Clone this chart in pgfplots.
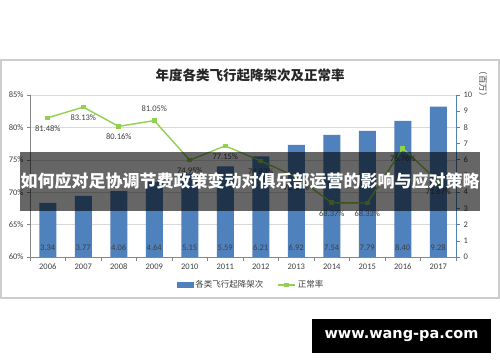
\documentclass[border=0pt]{standalone}
\usepackage{pgfplots}
\pgfplotsset{compat=1.18}
\usepackage{pgfplotstable}
\usepackage{fontspec}
\setmainfont{Carlito}
\newfontfamily\cjk{Noto Sans CJK SC}
\newfontfamily\dejavu{DejaVu Sans}
\definecolor{barblue}{RGB}{79,129,189}
\definecolor{linegreen}{RGB}{146,208,80}
\definecolor{gridgray}{RGB}{217,217,217}
\definecolor{axisgray}{RGB}{134,134,134}
\definecolor{txt}{RGB}{64,64,64}
\definecolor{framegray}{RGB}{205,205,205}

\pgfplotstableread{
x y
0 3.34
1 3.77
2 4.06
3 4.64
4 5.15
5 5.59
6 6.21
7 6.92
8 7.54
9 7.79
10 8.40
11 9.28
}\flighttable

\pgfplotstableread{
x y
0 81.48
1 83.13
2 80.16
3 81.05
4 74.95
5 77.15
6 74.83
7 72.34
8 68.37
9 68.33
10 76.76
11 71.67
}\ratetable

\begin{document}
\begin{tikzpicture}[x=1pt,y=1pt]
\path[use as bounding box] (0,0) rectangle (500,362);
\fill[white] (0,0) rectangle (500,362);
\draw[framegray, line width=1.2pt] (1,64) rectangle (499,302);
\node[font=\cjk\bfseries\fontsize{13.5}{15}\selectfont, text=black!85] at (250,287) {年度各类飞行起降架次及正常率};
\node[rotate=-90, font=\cjk\fontsize{8.5}{10}\selectfont, text=txt] at (483,278) {（百万）};

% axis with percentage scale, grid and categories
\begin{axis}[
  at={(30pt,105pt)}, anchor=south west, scale only axis,
  width=426pt, height=162pt,
  xmin=-0.5, xmax=11.5, ymin=60, ymax=85,
  axis x line*=bottom, axis y line*=left,
  xtick={0,...,11},
  xticklabels={2006,2007,2008,2009,2010,2011,2012,2013,2014,2015,2016,2017},
  minor xtick={-0.5,0.5,...,11.5},
  every major x tick/.append style={draw=none},
  ytick={60,65,...,85},
  yticklabel={\pgfmathprintnumber{\tick}\%},
  /pgf/number format/assume math mode=true,
  ymajorgrids, grid style={gridgray, line width=0.6pt},
  axis line style={axisgray, line width=0.6pt},
  tick style={axisgray, line width=0.6pt},
  tick align=outside, major tick length=3pt, minor tick length=4pt,
  ticklabel style={font=\fontsize{8.5}{10}\selectfont, text=txt},
]
\addplot[draw=none] coordinates {(0,60)};
\end{axis}

% bars on right scale
\begin{axis}[
  at={(30pt,105pt)}, anchor=south west, scale only axis,
  width=426pt, height=162pt,
  xmin=-0.5, xmax=11.5, ymin=0, ymax=10,
  axis x line=none, axis y line*=right,
  ytick={0,...,10},
  /pgf/number format/assume math mode=true,
  y axis line style={barblue, line width=0.6pt},
  ytick style={barblue, line width=0.6pt},
  tick align=outside, major tick length=4pt,
  yticklabel style={font=\fontsize{8.5}{10}\selectfont, text=txt},
  ybar, bar width=17pt,
  nodes near coords={\pgfmathprintnumber[fixed,precision=2,fixed zerofill,assume math mode=true]{\pgfplotspointmeta}},
  visualization depends on=y \as \rawy,
  every node near coord/.append style={shift={(axis direction cs:0,-\rawy)}, anchor=south, inner sep=0pt, yshift=6pt, font=\fontsize{8.5}{10}\selectfont, text=txt},
]
\addplot[fill=barblue, draw=none] table[x=x,y=y] {\flighttable};
\end{axis}

% line on percentage scale
\begin{axis}[
  at={(30pt,105pt)}, anchor=south west, scale only axis,
  width=426pt, height=162pt,
  xmin=-0.5, xmax=11.5, ymin=60, ymax=85,
  hide axis, clip=false,
  /pgf/number format/assume math mode=true,
  legend style={at={(0.519,-0.173)}, anchor=center, draw=none, fill=none,
    legend columns=2, font=\cjk\fontsize{8.5}{10}\selectfont, text=txt,
    /tikz/every even column/.append style={column sep=12pt}},
  legend cell align=left,
]
\addlegendimage{legend image code/.code={\fill[barblue] (0pt,-2.5pt) rectangle (16pt,2.5pt);}}
\addlegendentry{各类飞行起降架次}
\addlegendimage{linegreen, line width=1.4pt, mark=square*, mark size=1.6pt}
\addlegendentry{正常率}
\addplot[linegreen, line width=1.4pt, mark=square*, mark size=1.6pt, forget plot,
  nodes near coords={\pgfmathprintnumber[fixed,precision=2,fixed zerofill,assume math mode=true]{\pgfplotspointmeta}\%},
  every node near coord/.append style={anchor=north, inner sep=7pt, font=\fontsize{8.5}{10}\selectfont, text=txt},
  coordinate style/.condition={x==3}{yshift=23pt},
] table[x=x,y=y] {\ratetable};
\end{axis}

% overlay banner
\fill[black, opacity=0.6] (20,151) rectangle (480,210);
\node[text=white, font=\cjk\bfseries\fontsize{17}{19}\selectfont] at (250,180.5) {如何应对足协调节费政策变动对俱乐部运营的影响与应对策略};

% watermark
\fill[black] (312,9) rectangle (491,43);
\node[text=white, font=\dejavu\bfseries\fontsize{14.5}{16}\selectfont] at (401.5,26) {www.wang-pa.com};
\end{tikzpicture}
\end{document}
